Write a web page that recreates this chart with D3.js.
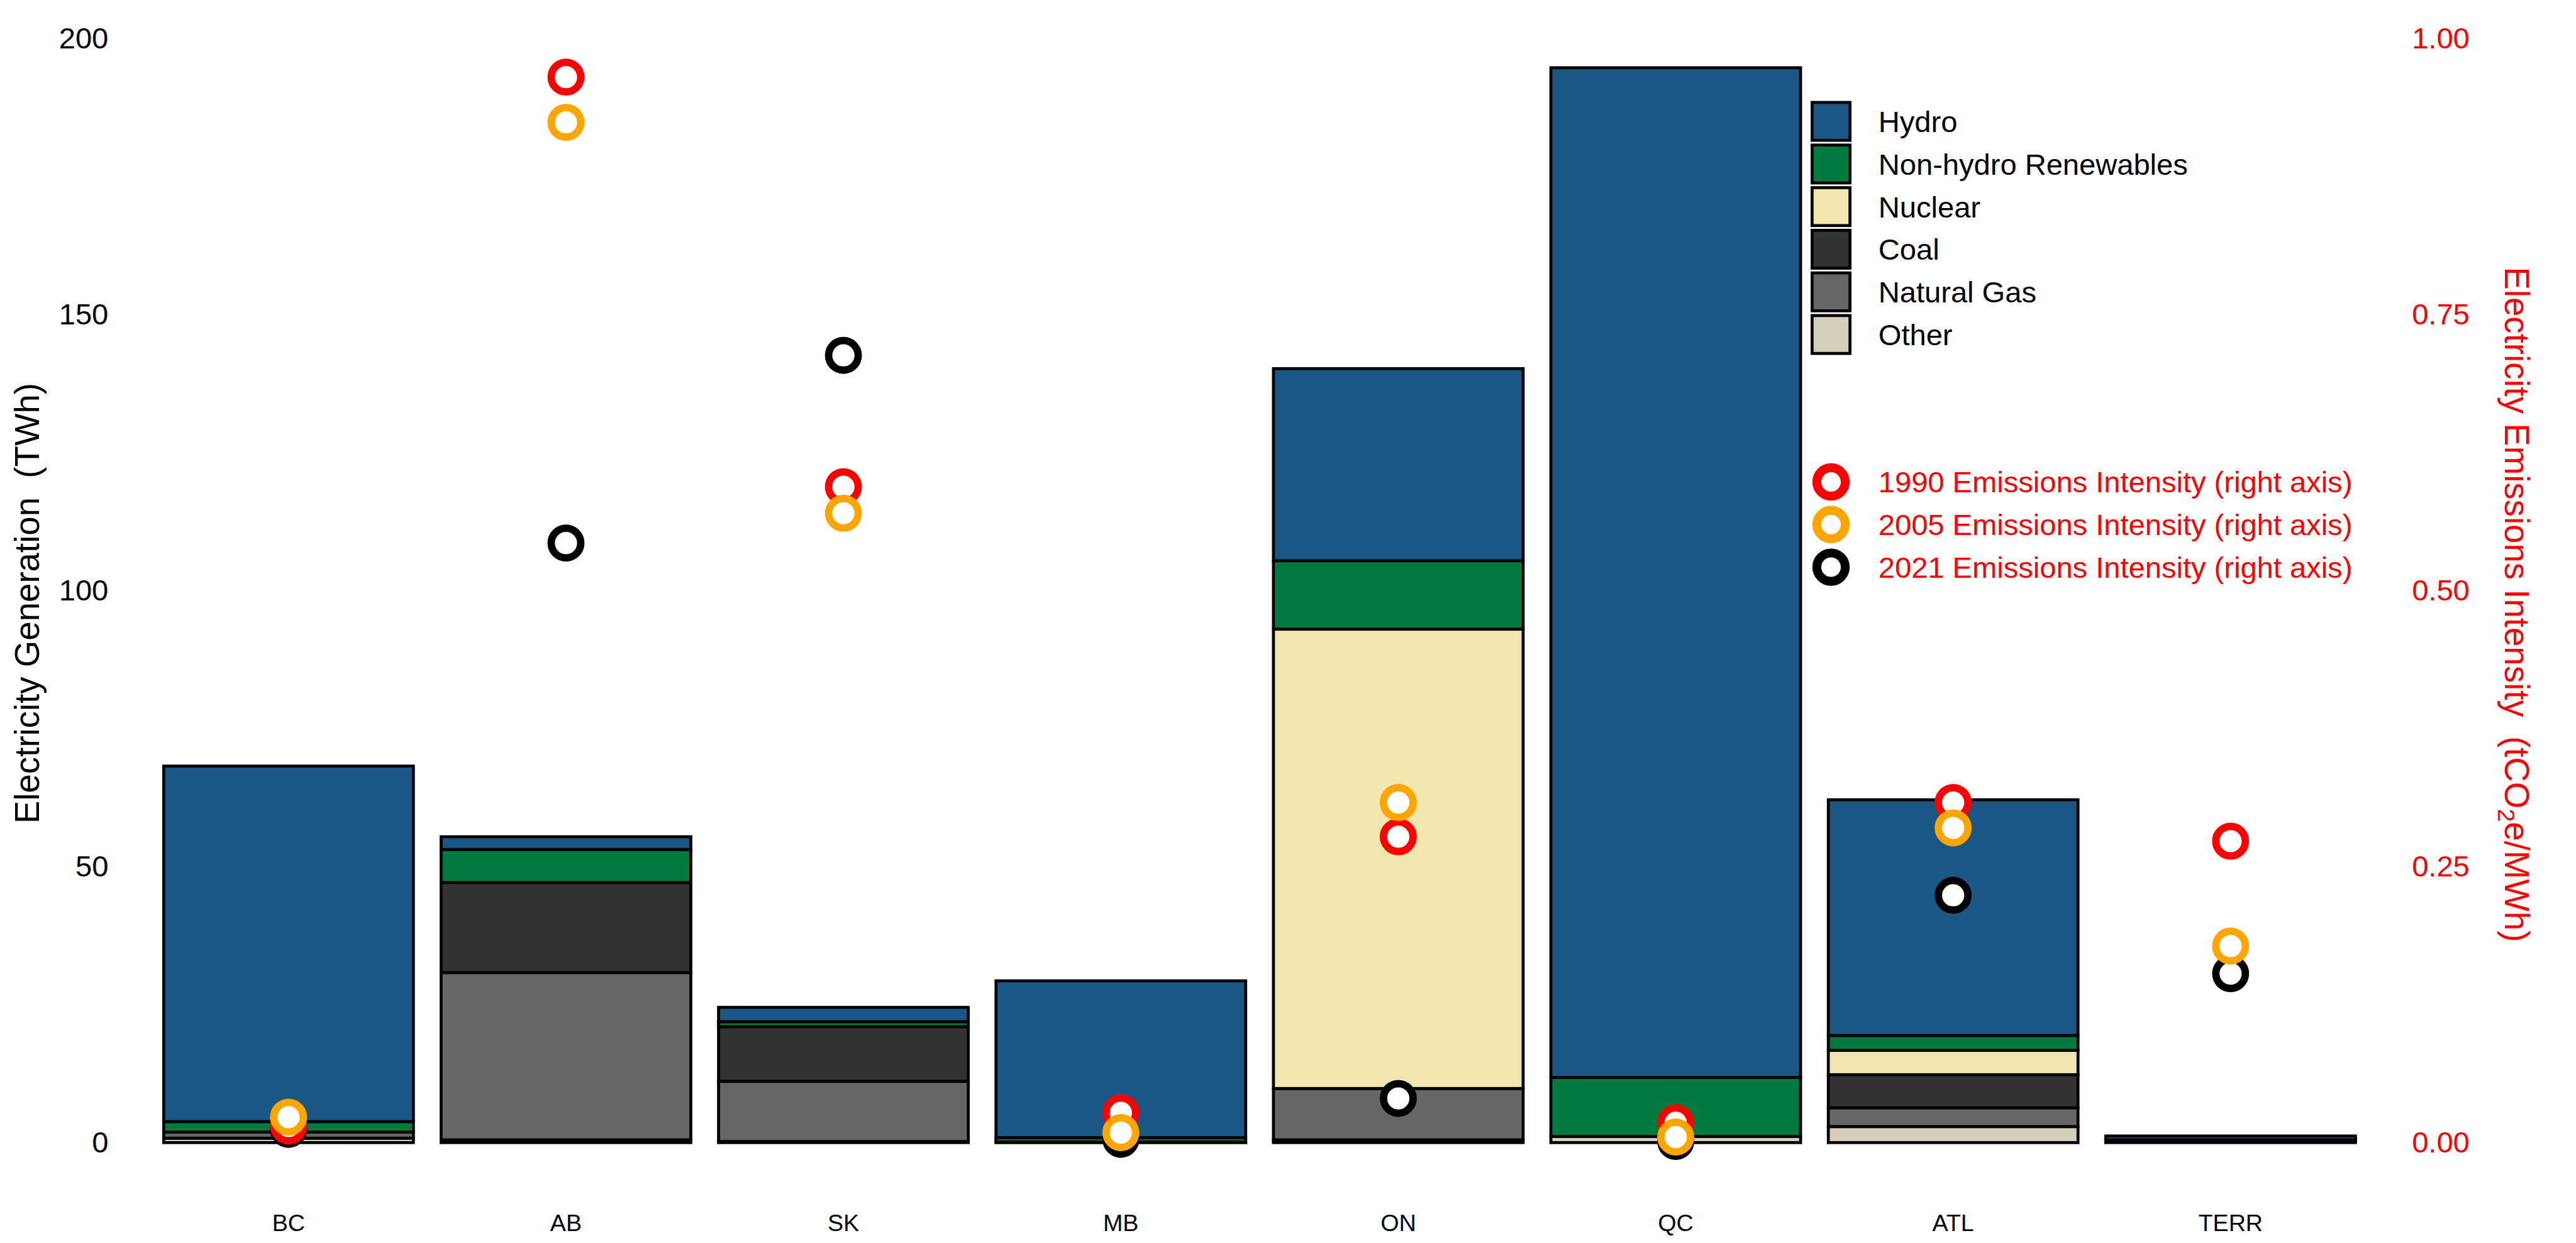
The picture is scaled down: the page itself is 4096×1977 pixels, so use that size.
<!DOCTYPE html>
<html>
<head>
<meta charset="utf-8">
<script src="https://cdn.jsdelivr.net/npm/d3@7"></script>
<style>
html,body{margin:0;padding:0;background:#fff;}
svg{display:block;font-family:"Liberation Sans",Arial,Helvetica,sans-serif;}
</style>
</head>
<body>
<script>
// ---- data ----
const regions = ["BC","AB","SK","MB","ON","QC","ATL","TERR"];
const hydro     = [64.4, 2.3, 2.6, 28.4, 34.8, 182.9, 42.7, 0.7];
const nonHydro  = [1.9, 6.0, 0.9, 0.8, 12.4, 10.7, 2.7, 0.05];
const nuclear   = [0, 0, 0, 0, 83.2, 0, 4.4, 0];
const coal      = [0, 16.3, 9.9, 0, 0, 0, 6.0, 0];
const gas       = [1.1, 30.3, 10.9, 0.05, 9.3, 0, 3.4, 0.1];
const other     = [0.8, 0.5, 0.2, 0.05, 0.5, 1.1, 2.9, 0.35];
const int1990   = [0.015, 0.965, 0.594, 0.027, 0.277, 0.018, 0.308, 0.273];
const int2005   = [0.023, 0.924, 0.570, 0.009, 0.308, 0.005, 0.285, 0.178];
const int2021   = [0.012, 0.543, 0.713, 0.003, 0.040, 0.001, 0.224, 0.153];
const leftTicks  = [0, 50, 100, 150, 200];
const rightTicks = [0, 0.25, 0.5, 0.75, 1.0];
const sourceNames = ["Hydro","Non-hydro Renewables","Nuclear","Coal","Natural Gas","Other"];
const pointNames = ["1990 Emissions Intensity (right axis)","2005 Emissions Intensity (right axis)","2021 Emissions Intensity (right axis)"];

// ---- styles ----
const s = 4096/4350;
const W = 4096, H = 1977;
const srcColors = {"Hydro":"#1a5785","Non-hydro Renewables":"#007a3e","Nuclear":"#f1e6ad","Coal":"#333333","Natural Gas":"#666666","Other":"#d4cfbb"};
const ptColors = ["#ff0000","#ffa500","#000000"];
const font = "'Liberation Sans',Arial,Helvetica,sans-serif";

const series = {"Hydro":hydro,"Non-hydro Renewables":nonHydro,"Nuclear":nuclear,"Coal":coal,"Natural Gas":gas,"Other":other};
const stackOrder = ["Other","Natural Gas","Coal","Nuclear","Non-hydro Renewables","Hydro"];
const table = regions.map((r,i)=>{const o={region:r}; stackOrder.forEach(k=>o[k]=series[k][i]); return o;});

const svg = d3.select("body").append("svg").attr("width",W).attr("height",H);

const x = d3.scaleBand().domain(regions).range([253*s, 4001*s]).paddingInner(0.1).paddingOuter(0.05);
const y = d3.scaleLinear().domain([0,200]).range([1930*s, 65*s]);
const y2 = d3.scaleLinear().domain([0,1]).range([1930*s, 65*s]);

// bars
const stack = d3.stack().keys(stackOrder)(table);
const g = svg.append("g");
stack.forEach(layer=>{
  g.selectAll(null).data(layer.filter(d=>d[1]-d[0]>0)).enter().append("rect")
    .attr("x", d=>x(d.data.region))
    .attr("width", x.bandwidth())
    .attr("y", d=>y(d[1]))
    .attr("height", d=>y(d[0])-y(d[1]))
    .attr("fill", srcColors[layer.key])
    .attr("stroke","#000").attr("stroke-width",5*s);
});

// points: draw 2021, then 1990, then 2005
const ptSets = [int1990,int2005,int2021];
[2,0,1].forEach(k=>{
  svg.append("g").selectAll("circle").data(regions).enter().append("circle")
    .attr("cx", d=>x(d)+x.bandwidth()/2)
    .attr("cy", (d,i)=>y2(ptSets[k][i]))
    .attr("r", 25*s)
    .attr("fill","#fff")
    .attr("stroke", ptColors[k])
    .attr("stroke-width", 12.5*s);
});

// axes
const ax = svg.append("g").attr("transform",`translate(${253*s},0)`)
  .call(d3.axisLeft(y).tickValues(leftTicks).tickSize(0).tickPadding(70*s));
ax.select(".domain").remove();
ax.selectAll("text").attr("font-size",50*s).attr("font-family",font).attr("fill","#000");

const ax2 = svg.append("g").attr("transform",`translate(${4001*s},0)`)
  .call(d3.axisRight(y2).tickValues(rightTicks).tickFormat(d3.format(".2f")).tickSize(0).tickPadding(72*s));
ax2.select(".domain").remove();
ax2.selectAll("text").attr("font-size",50*s).attr("font-family",font).attr("fill","#ff0000");

const axb = svg.append("g").attr("transform",`translate(0,${1930*s})`)
  .call(d3.axisBottom(x).tickSize(0).tickPadding(121*s));
axb.select(".domain").remove();
axb.selectAll("text").attr("font-size",40*s).attr("font-family",font).attr("fill","#000");

// axis titles
svg.append("text")
  .attr("transform",`translate(${66*s},${1019*s}) rotate(-90)`)
  .attr("text-anchor","middle").attr("font-size",58*s).attr("font-family",font)
  .style("white-space","pre")
  .text("Electricity Generation  (TWh)");

const rt = svg.append("text")
  .attr("transform",`translate(${4230*s},${1021*s}) rotate(90)`)
  .attr("text-anchor","middle").attr("font-size",58*s).attr("font-family",font)
  .attr("fill","#ff0000").style("white-space","pre");
rt.append("tspan").text("Electricity Emissions Intensity  (tCO");
rt.append("tspan").attr("font-size",40*s).attr("dy",12*s).text("2");
rt.append("tspan").attr("dy",-12*s).text("e/MWh)");

// legend: sources
const lg = svg.append("g");
sourceNames.forEach((n,i)=>{
  const cy = (205 + 72*i)*s;
  lg.append("rect").attr("x",3060*s).attr("y",cy-32*s).attr("width",64*s).attr("height",64*s)
    .attr("fill",srcColors[n]).attr("stroke","#000").attr("stroke-width",5*s);
  lg.append("text").attr("x",3172*s).attr("y",cy).attr("dy","0.36em")
    .attr("font-size",50*s).attr("font-family",font).attr("fill","#000").text(n);
});
// legend: points
pointNames.forEach((n,i)=>{
  const cy = (814 + 72*i)*s;
  lg.append("circle").attr("cx",3092*s).attr("cy",cy).attr("r",24*s)
    .attr("fill","#fff").attr("stroke",ptColors[i]).attr("stroke-width",15*s);
  lg.append("text").attr("x",3172*s).attr("y",cy).attr("dy","0.36em")
    .attr("font-size",50*s).attr("font-family",font).attr("fill","#ff0000").text(n);
});
</script>
</body>
</html>
